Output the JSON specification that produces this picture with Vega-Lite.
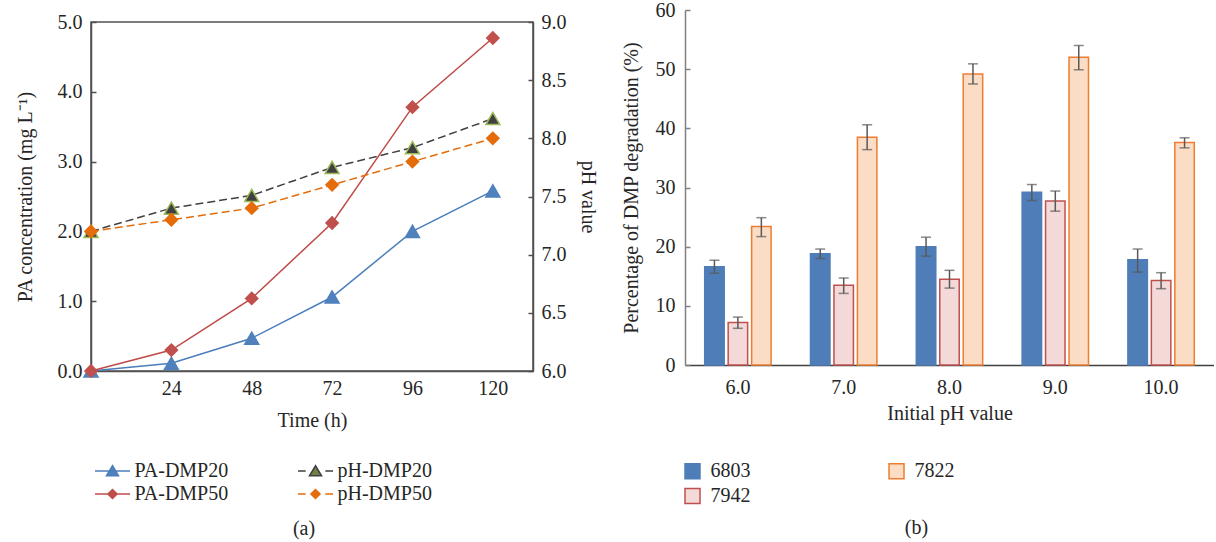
{
  "$schema": "https://vega.github.io/schema/vega-lite/v6.json",
  "background": "white",
  "padding": {"left": 14, "top": 0, "right": 0, "bottom": 0},
  "spacing": 23,
  "resolve": {"scale": {"color": "independent", "fill": "independent", "stroke": "independent"}},
  "config": {
    "font": "Liberation Serif",
    "view": {"stroke": null},
    "axis": {
      "labelFont": "Liberation Serif", "titleFont": "Liberation Serif",
      "labelFontSize": 20, "titleFontSize": 20,
      "labelColor": "#262626", "titleColor": "#262626", "titleFontWeight": "normal",
      "grid": false, "domainColor": "#505050", "tickColor": "#505050",
      "domainWidth": 1.5, "tickWidth": 1.5
    },
    "legend": {"labelFont": "Liberation Serif", "labelFontSize": 20, "labelColor": "#262626", "padding": 0, "offset": 0},
    "title": {"font": "Liberation Serif", "fontSize": 20, "fontWeight": "normal", "color": "#262626"}
  },
  "hconcat": [
    {
      "spacing": 0,
      "vconcat": [
        {
          "width": 1,
          "height": 1,
          "data": {"values": []},
          "mark": {"type": "point", "opacity": 0}
        },
        {
          "width": 442,
          "height": 349,
          "view": {"stroke": "#505050", "strokeWidth": 1.5},
          "title": {"text": "(a)", "orient": "bottom", "anchor": "middle", "frame": "group", "offset": 89, "dx": -8},
          "data": {"values": [
            {"time": 0, "series": "PA-DMP20", "value": 0},
            {"time": 24, "series": "PA-DMP20", "value": 0.11},
            {"time": 48, "series": "PA-DMP20", "value": 0.47},
            {"time": 72, "series": "PA-DMP20", "value": 1.06},
            {"time": 96, "series": "PA-DMP20", "value": 2.0},
            {"time": 120, "series": "PA-DMP20", "value": 2.58},
            {"time": 0, "series": "PA-DMP50", "value": 0},
            {"time": 24, "series": "PA-DMP50", "value": 0.3},
            {"time": 48, "series": "PA-DMP50", "value": 1.04},
            {"time": 72, "series": "PA-DMP50", "value": 2.12},
            {"time": 96, "series": "PA-DMP50", "value": 3.78},
            {"time": 120, "series": "PA-DMP50", "value": 4.77},
            {"time": 0, "series": "pH-DMP20", "value": 7.2},
            {"time": 24, "series": "pH-DMP20", "value": 7.4},
            {"time": 48, "series": "pH-DMP20", "value": 7.51},
            {"time": 72, "series": "pH-DMP20", "value": 7.75},
            {"time": 96, "series": "pH-DMP20", "value": 7.92},
            {"time": 120, "series": "pH-DMP20", "value": 8.17},
            {"time": 0, "series": "pH-DMP50", "value": 7.2},
            {"time": 24, "series": "pH-DMP50", "value": 7.3},
            {"time": 48, "series": "pH-DMP50", "value": 7.4},
            {"time": 72, "series": "pH-DMP50", "value": 7.6},
            {"time": 96, "series": "pH-DMP50", "value": 7.8},
            {"time": 120, "series": "pH-DMP50", "value": 8.0}
          ]},
          "encoding": {
            "x": {"field": "time", "type": "quantitative", "scale": {"domain": [0, 132], "nice": false},
              "axis": {"values": [24, 48, 72, 96, 120], "title": "Time (h)", "ticks": false, "labelPadding": 7, "titlePadding": 12}}
          },
          "layer": [
            {
              "transform": [{"filter": "indexof(datum.series, 'PA') == 0"}],
              "encoding": {
                "y": {"field": "value", "type": "quantitative", "scale": {"domain": [0, 5], "nice": false},
                  "axis": {"orient": "left", "values": [0, 1, 2, 3, 4, 5], "format": ".1f", "title": "PA concentration (mg L⁻¹)", "tickSize": -5, "labelPadding": 14, "titlePadding": 22}}
              },
              "layer": [
                {
                  "mark": {"type": "line", "strokeWidth": 1.5},
                  "encoding": {
                    "color": {"field": "series", "type": "nominal",
                      "scale": {"domain": ["PA-DMP20", "PA-DMP50", "pH-DMP20", "pH-DMP50"], "range": ["#4a7ebb", "#be4b48", "#404040", "#e46c0a"]},
                      "legend": {"orient": "none", "legendX": 8, "legendY": 451, "columns": 2, "columnPadding": 66, "rowPadding": 3, "title": null,
                        "values": ["PA-DMP20", "PA-DMP50", "pH-DMP20", "pH-DMP50"],
                        "symbolSize": 196, "symbolStrokeWidth": 1.5, "symbolOffset": 3.5, "labelOffset": 12,
                        "encode": {"symbols": {"update": {
                          "shape": {"signal": "datum.value === 'PA-DMP20' ? 'M-2.5,0H2.5M0,-0.75L0.86,0.68L-0.86,0.68Z' : datum.value === 'PA-DMP50' ? 'M-2.5,0H2.5M0,-0.65L0.65,0L0,0.65L-0.65,0Z' : datum.value === 'pH-DMP20' ? 'M-2.5,0H-1.4M1.4,0H2.5M0,-0.75L0.86,0.68L-0.86,0.68Z' : 'M-2.5,0H-1.4M1.4,0H2.5M0,-0.65L0.65,0L0,0.65L-0.65,0Z'"},
                          "fill": {"signal": "datum.value === 'PA-DMP20' ? '#4f81bd' : datum.value === 'PA-DMP50' ? '#c0504d' : datum.value === 'pH-DMP20' ? '#6f7f45' : '#e46c0a'"}
                        }}}
                      }
                    }
                  }
                },
                {
                  "mark": {"type": "point", "filled": true, "opacity": 1, "strokeWidth": 1.5},
                  "encoding": {
                    "shape": {"condition": {"test": "indexof(datum.series, 'DMP20') > 0", "value": "triangle-up"}, "value": "diamond"},
                    "fill": {"condition": [
                      {"test": "datum.series === 'PA-DMP20'", "value": "#4f81bd"},
                      {"test": "datum.series === 'PA-DMP50'", "value": "#c0504d"},
                      {"test": "datum.series === 'pH-DMP20'", "value": "#404040"}
                    ], "value": "#e46c0a"},
                    "stroke": {"condition": [
                      {"test": "datum.series === 'PA-DMP20'", "value": "#4f81bd"},
                      {"test": "datum.series === 'PA-DMP50'", "value": "#c0504d"},
                      {"test": "datum.series === 'pH-DMP20'", "value": "#9bbb59"}
                    ], "value": "#e46c0a"},
                    "size": {"condition": {"test": "indexof(datum.series, 'DMP20') > 0", "value": 196}, "value": 150}
                  }
                }
              ]
            },
            {
              "transform": [{"filter": "indexof(datum.series, 'pH') == 0"}],
              "encoding": {
                "y": {"field": "value", "type": "quantitative", "scale": {"domain": [6, 9], "nice": false},
                  "axis": {"orient": "right", "values": [6, 6.5, 7, 7.5, 8, 8.5, 9], "format": ".1f", "title": "pH value", "tickSize": -5, "labelPadding": 13, "titlePadding": 11}}
              },
              "layer": [
                {
                  "mark": {"type": "line", "strokeWidth": 1.5, "strokeDash": [8, 4]},
                  "encoding": {
                    "color": {"field": "series", "type": "nominal",
                      "scale": {"domain": ["PA-DMP20", "PA-DMP50", "pH-DMP20", "pH-DMP50"], "range": ["#4a7ebb", "#be4b48", "#404040", "#e46c0a"]},
                      "legend": {"orient": "none", "legendX": 8, "legendY": 451, "columns": 2, "columnPadding": 66, "rowPadding": 3, "title": null,
                        "values": ["PA-DMP20", "PA-DMP50", "pH-DMP20", "pH-DMP50"],
                        "symbolSize": 196, "symbolStrokeWidth": 1.5, "symbolOffset": 3.5, "labelOffset": 12,
                        "encode": {"symbols": {"update": {
                          "shape": {"signal": "datum.value === 'PA-DMP20' ? 'M-2.5,0H2.5M0,-0.75L0.86,0.68L-0.86,0.68Z' : datum.value === 'PA-DMP50' ? 'M-2.5,0H2.5M0,-0.65L0.65,0L0,0.65L-0.65,0Z' : datum.value === 'pH-DMP20' ? 'M-2.5,0H-1.4M1.4,0H2.5M0,-0.75L0.86,0.68L-0.86,0.68Z' : 'M-2.5,0H-1.4M1.4,0H2.5M0,-0.65L0.65,0L0,0.65L-0.65,0Z'"},
                          "fill": {"signal": "datum.value === 'PA-DMP20' ? '#4f81bd' : datum.value === 'PA-DMP50' ? '#c0504d' : datum.value === 'pH-DMP20' ? '#6f7f45' : '#e46c0a'"}
                        }}}
                      }
                    }
                  }
                },
                {
                  "mark": {"type": "point", "filled": true, "opacity": 1, "strokeWidth": 1.5},
                  "encoding": {
                    "shape": {"condition": {"test": "indexof(datum.series, 'DMP20') > 0", "value": "triangle-up"}, "value": "diamond"},
                    "fill": {"condition": [
                      {"test": "datum.series === 'PA-DMP20'", "value": "#4f81bd"},
                      {"test": "datum.series === 'PA-DMP50'", "value": "#c0504d"},
                      {"test": "datum.series === 'pH-DMP20'", "value": "#404040"}
                    ], "value": "#e46c0a"},
                    "stroke": {"condition": [
                      {"test": "datum.series === 'PA-DMP20'", "value": "#4f81bd"},
                      {"test": "datum.series === 'PA-DMP50'", "value": "#c0504d"},
                      {"test": "datum.series === 'pH-DMP20'", "value": "#9bbb59"}
                    ], "value": "#e46c0a"},
                    "size": {"condition": {"test": "indexof(datum.series, 'DMP20') > 0", "value": 196}, "value": 150}
                  }
                }
              ]
            }
          ],
          "resolve": {"scale": {"y": "independent"}}
        }
      ]
    },
    {
      "width": 529,
      "height": 355,
      "title": {"text": "(b)", "orient": "bottom", "anchor": "middle", "frame": "group", "offset": 11, "dx": -33},
      "data": {"values": [
        {"ph": "6.0", "strain": "6803", "value": 16.6, "lo": 15.5, "hi": 17.7},
        {"ph": "6.0", "strain": "7942", "value": 7.2, "lo": 6.2, "hi": 8.1},
        {"ph": "6.0", "strain": "7822", "value": 23.4, "lo": 21.7, "hi": 24.9},
        {"ph": "7.0", "strain": "6803", "value": 18.8, "lo": 18.0, "hi": 19.6},
        {"ph": "7.0", "strain": "7942", "value": 13.5, "lo": 12.1, "hi": 14.7},
        {"ph": "7.0", "strain": "7822", "value": 38.5, "lo": 36.4, "hi": 40.6},
        {"ph": "8.0", "strain": "6803", "value": 20.0, "lo": 18.4, "hi": 21.6},
        {"ph": "8.0", "strain": "7942", "value": 14.5, "lo": 13.0, "hi": 16.0},
        {"ph": "8.0", "strain": "7822", "value": 49.2, "lo": 47.5, "hi": 50.9},
        {"ph": "9.0", "strain": "6803", "value": 29.2, "lo": 27.8, "hi": 30.5},
        {"ph": "9.0", "strain": "7942", "value": 27.7, "lo": 26.0, "hi": 29.4},
        {"ph": "9.0", "strain": "7822", "value": 52.0, "lo": 49.9, "hi": 54.0},
        {"ph": "10.0", "strain": "6803", "value": 17.8, "lo": 15.7, "hi": 19.6},
        {"ph": "10.0", "strain": "7942", "value": 14.3, "lo": 12.9, "hi": 15.6},
        {"ph": "10.0", "strain": "7822", "value": 37.6, "lo": 36.7, "hi": 38.4}
      ]},
      "encoding": {
        "x": {"field": "ph", "type": "nominal", "sort": ["6.0", "7.0", "8.0", "9.0", "10.0"],
          "scale": {"paddingInner": 0, "paddingOuter": 0},
          "axis": {"title": "Initial pH value", "labelAngle": 0, "ticks": false, "labelPadding": 12, "titlePadding": 6, "domainColor": "#404040"}},
        "xOffset": {"field": "strain", "type": "nominal", "sort": ["6803", "7942", "7822"],
          "scale": {"paddingInner": 0.17, "paddingOuter": 0.84}}
      },
      "layer": [
        {
          "mark": {"type": "bar", "strokeWidth": 1.5},
          "encoding": {
            "y": {"field": "value", "type": "quantitative", "scale": {"domain": [0, 60], "nice": false},
              "axis": {"values": [0, 10, 20, 30, 40, 50, 60], "title": "Percentage of DMP degradation (%)", "tickSize": -5, "labelPadding": 15, "titlePadding": 14, "domainColor": "#808080", "tickColor": "#808080"}},
            "fill": {"field": "strain", "type": "nominal",
              "scale": {"domain": ["6803", "7942", "7822"], "range": ["#4f7db8", "#f3d9d8", "#fbdcc4"]},
              "legend": {"orient": "none", "legendX": 0, "legendY": 451, "columns": 2, "columnPadding": 135, "rowPadding": 3, "title": null,
                "values": ["6803", "7942", "7822"], "symbolType": "square", "symbolSize": 225, "symbolStrokeWidth": 1.5,
                "symbolOffset": -2.5, "labelOffset": 8}},
            "stroke": {"field": "strain", "type": "nominal",
              "scale": {"domain": ["6803", "7942", "7822"], "range": ["#4f7db8", "#c0504d", "#ed7d31"]},
              "legend": {"orient": "none", "legendX": 0, "legendY": 451, "columns": 2, "columnPadding": 135, "rowPadding": 3, "title": null,
                "values": ["6803", "7942", "7822"], "symbolType": "square", "symbolSize": 225, "symbolStrokeWidth": 1.5,
                "symbolOffset": -2.5, "labelOffset": 8}}
          }
        },
        {
          "mark": {"type": "rule", "color": "#595959", "strokeWidth": 1.5},
          "encoding": {"y": {"field": "lo", "type": "quantitative"}, "y2": {"field": "hi"}}
        },
        {
          "mark": {"type": "tick", "color": "#595959", "thickness": 1.5, "size": 10},
          "encoding": {"y": {"field": "lo", "type": "quantitative"}}
        },
        {
          "mark": {"type": "tick", "color": "#595959", "thickness": 1.5, "size": 10},
          "encoding": {"y": {"field": "hi", "type": "quantitative"}}
        }
      ]
    }
  ]
}
